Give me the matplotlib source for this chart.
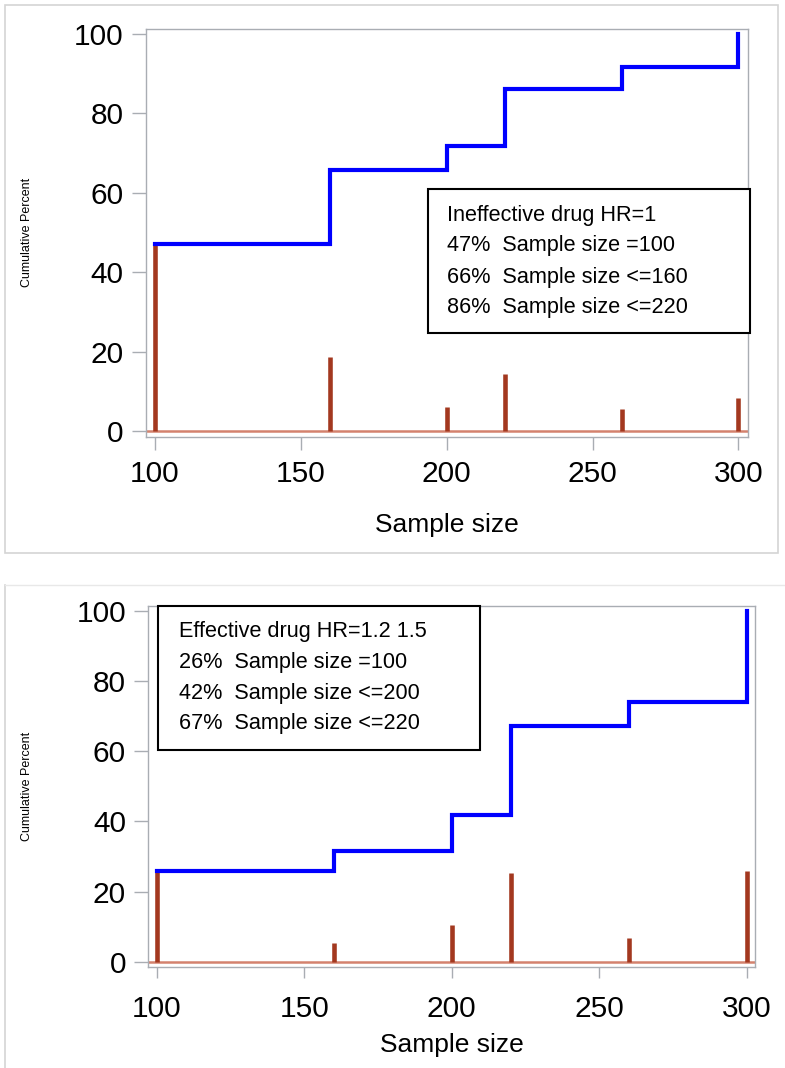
import matplotlib
matplotlib.use("Agg")
import matplotlib.pyplot as plt
from matplotlib.patches import Rectangle
from matplotlib.lines import Line2D
import numpy as np

plt.rcParams['font.family'] = ['Liberation Sans', 'DejaVu Sans']

# ---- data ----
sample_sizes = [100, 160, 200, 220, 260, 300]
pct_ineffective = [47.0, 18.7, 6.0, 14.4, 5.6, 8.3]
pct_effective = [26.0, 5.5, 10.4, 25.3, 6.9, 25.9]
x_ticks = [100, 150, 200, 250, 300]
y_ticks = [0, 20, 40, 60, 80, 100]
text_ineffective = ["Ineffective drug HR=1",
                    "47%  Sample size =100",
                    "66%  Sample size <=160",
                    "86%  Sample size <=220"]
text_effective = ["Effective drug HR=1.2 1.5",
                  "26%  Sample size =100",
                  "42%  Sample size <=200",
                  "67%  Sample size <=220"]

W, H = 785, 1068
fig = plt.figure(figsize=(W / 100, H / 100), dpi=100)


def fx(x):
    return x / W


def fy(y):
    return 1 - y / H


# panel frames
fig.add_artist(Rectangle((fx(5), fy(553)), fx(778) - fx(5), fy(5) - fy(553),
                         transform=fig.transFigure, fill=False,
                         edgecolor='#d4d4d4', lw=1.2))
fig.add_artist(Line2D([fx(5), fx(5)], [fy(585), 0], transform=fig.transFigure,
                      color='#d4d4d4', lw=1.2))
fig.add_artist(Line2D([fx(5), 1], [fy(585), fy(585)], transform=fig.transFigure,
                      color='#e8e8e8', lw=1.0))

spine_col = '#a9adb3'
needle_col = '#a3381f'
base_col = '#d4826e'


def panel(rect_px, xlim, ylim, pct, lines, box_px, text_x, text_ys, xlabel_y,
          xpad, xlen):
    l, t, r, b = rect_px
    ax = fig.add_axes([fx(l), fy(b), fx(r) - fx(l), fy(t) - fy(b)])
    ax.set_xlim(*xlim)
    ax.set_ylim(*ylim)
    # baseline
    ax.axhline(0, color=base_col, lw=1.8, zorder=2)
    # needles
    ax.vlines(sample_sizes, 0, pct, color=needle_col, lw=3.3, zorder=3)
    # cumulative step line
    cum = np.cumsum(pct)
    cum = cum / cum[-1] * 100
    ax.plot(sample_sizes, cum, drawstyle='steps-post', color='#0000ff',
            lw=3.0, zorder=4, solid_joinstyle='miter')
    ax.set_xticks(x_ticks)
    ax.set_yticks(y_ticks)
    for s in ax.spines.values():
        s.set_color(spine_col)
        s.set_linewidth(1.0)
    ax.tick_params(axis='both', colors=spine_col, labelcolor='black',
                   labelsize=21.5, length=10, width=1.0)
    ax.tick_params(axis='y', pad=6)
    ax.tick_params(axis='x', pad=xpad, length=xlen)
    # axis titles as figure text
    fig.text(fx((l + r) / 2), fy(xlabel_y), 'Sample size', fontsize=19,
             ha='center', va='center')
    fig.text(fx(27), (fy(t) + fy(b)) / 2, 'Cumulative Percent', fontsize=9,
             rotation=90, ha='center', va='center')
    # inset box
    bl, bt, br, bb = box_px
    fig.add_artist(Rectangle((fx(bl), fy(bb)), fx(br) - fx(bl), fy(bt) - fy(bb),
                             transform=fig.transFigure, facecolor='white',
                             edgecolor='black', lw=1.5, zorder=10))
    for s, yy in zip(lines, text_ys):
        fig.text(fx(text_x), fy(yy), s, fontsize=15.6, va='center', ha='left',
                 zorder=11)
    return ax


panel((146, 28.7, 747.5, 436.7), (96.9, 303.1), (-1.44, 101.26),
      pct_ineffective, text_ineffective, (427.5, 189, 750, 333), 447,
      [216, 246, 277, 307], 525, 8, 9)
panel((148.3, 605.7, 755, 967.3), (97.2, 302.7), (-1.5, 101.4),
      pct_effective, text_effective, (158, 605.7, 480, 750), 179,
      [631.7, 662.7, 693.3, 724], 1045, 12, 8)

fig.savefig('out.png', dpi=100)
